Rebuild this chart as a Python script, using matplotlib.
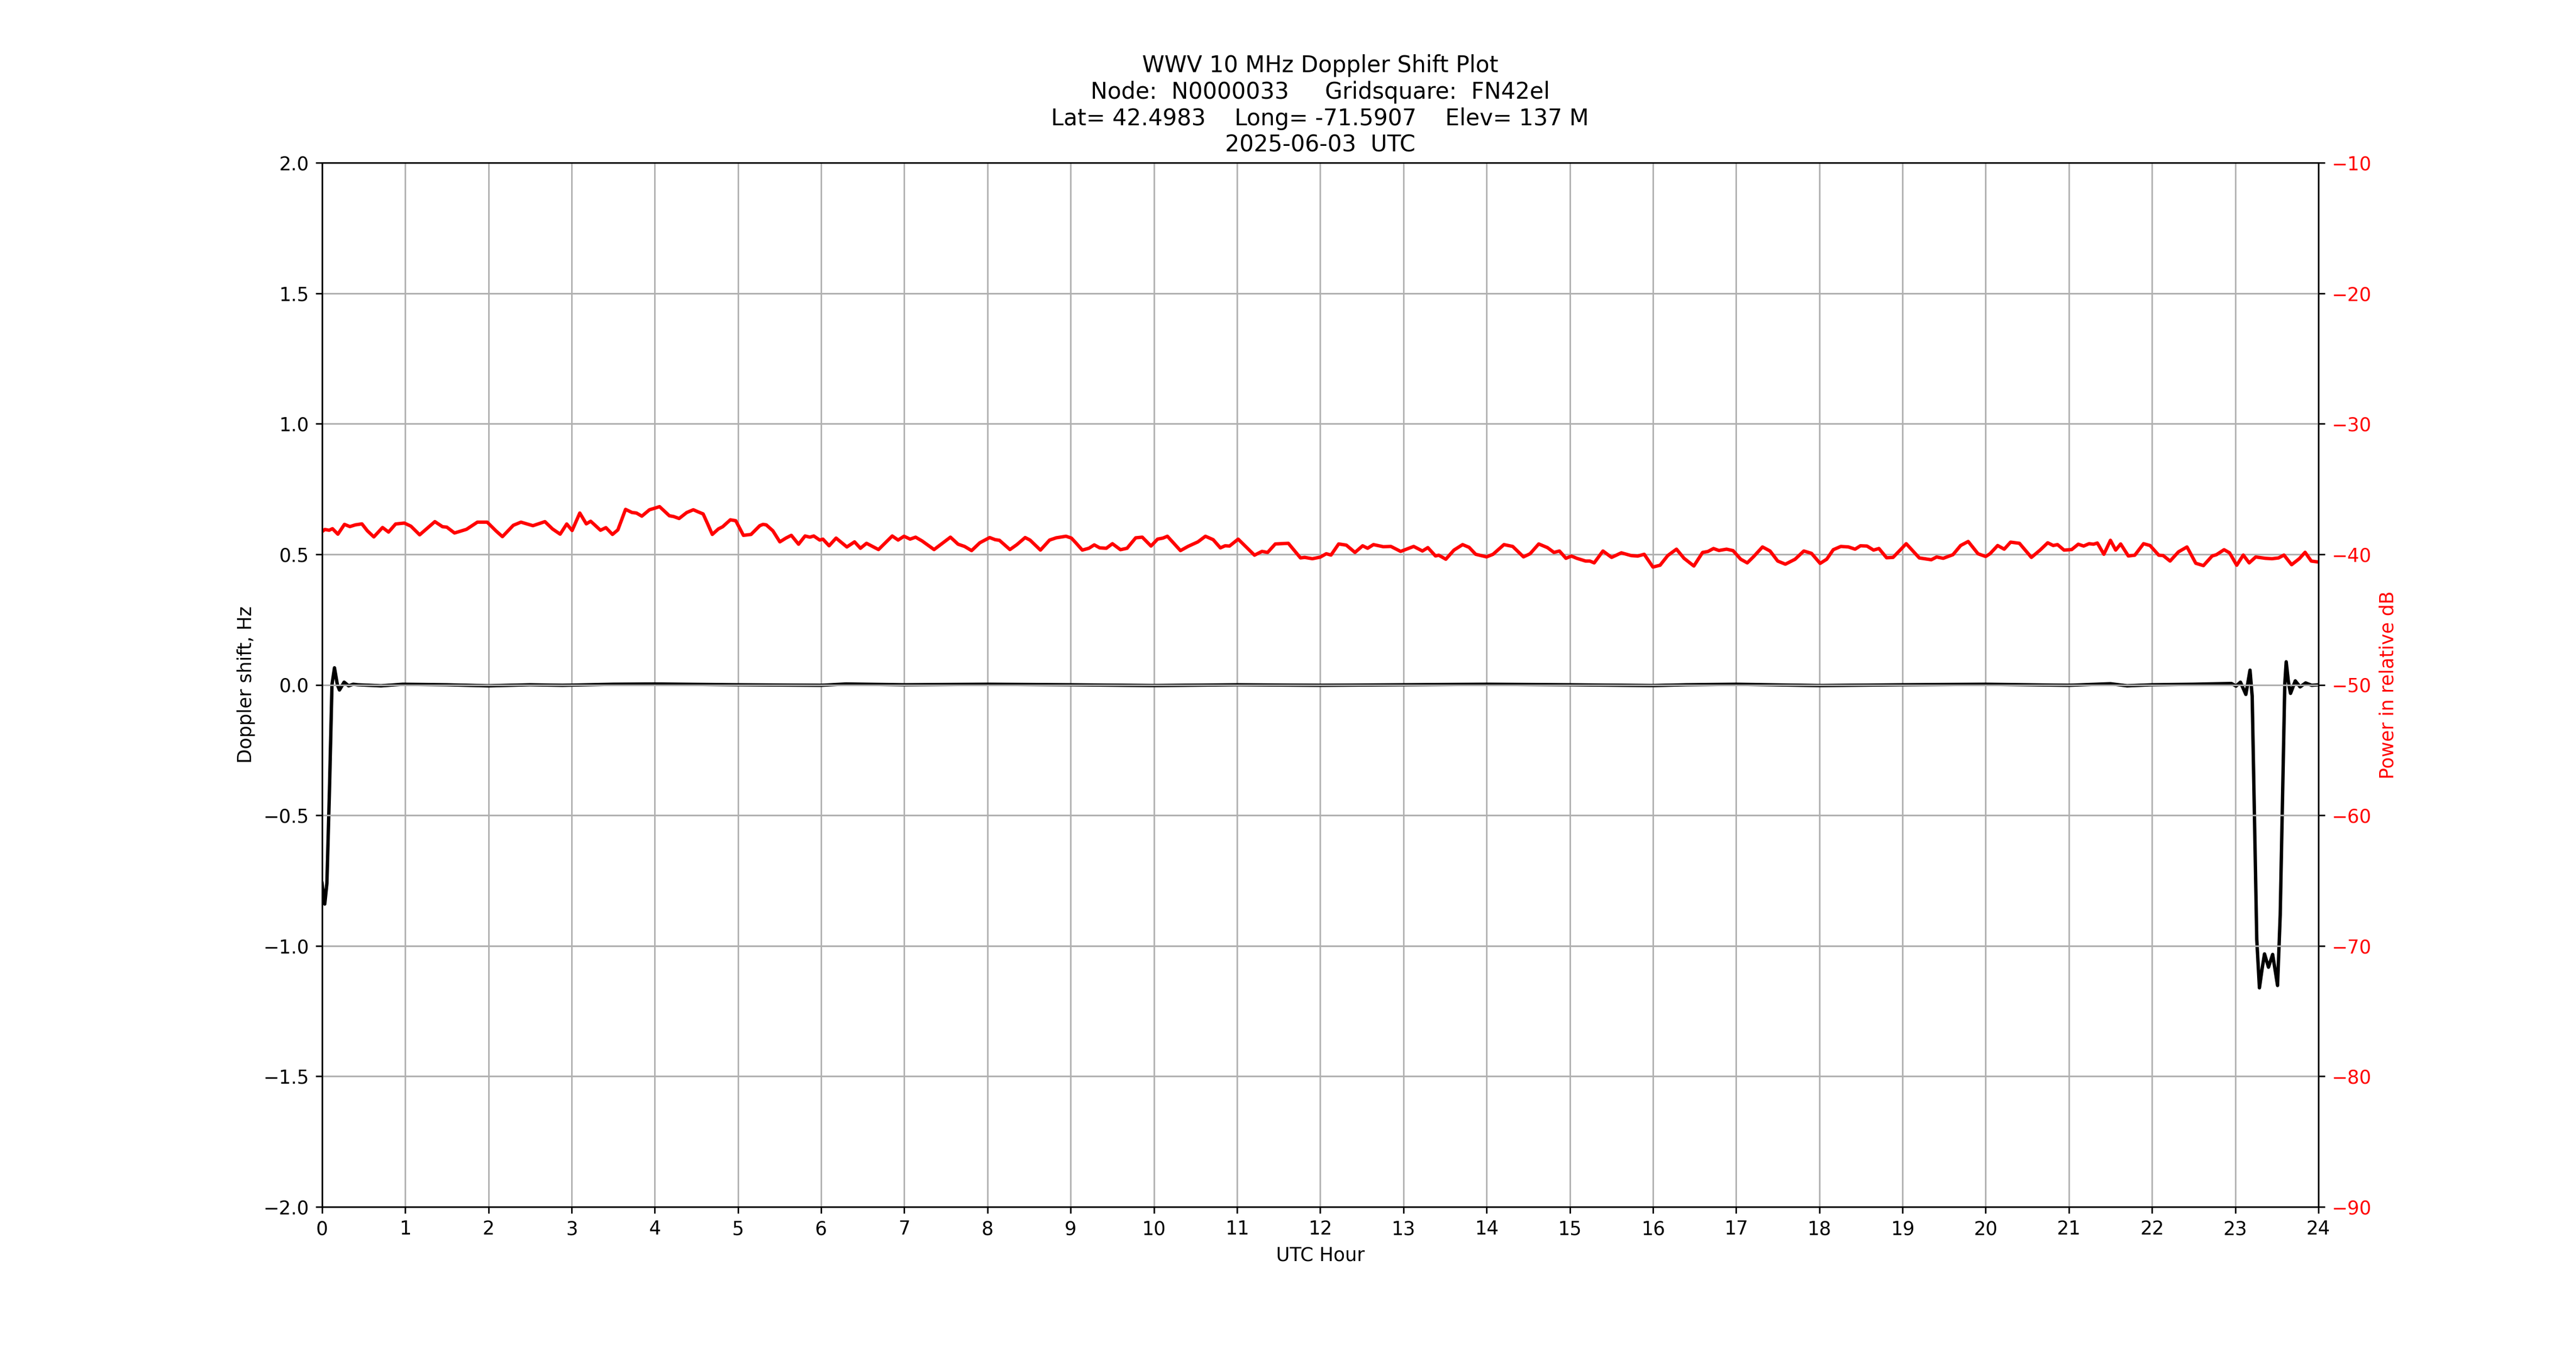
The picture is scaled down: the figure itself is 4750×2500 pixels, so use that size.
import matplotlib
matplotlib.use('Agg')
import matplotlib.pyplot as plt

# Doppler shift (Hz) vs UTC hour
dop_hours = [0.0, 0.033, 0.059, 0.09, 0.12, 0.15, 0.185, 0.21, 0.266, 0.32,
             0.375, 0.43, 0.71, 0.97, 1.5, 2.0, 2.5, 2.89, 3.5, 4.0, 5.0,
             6.0, 6.3, 7.0, 8.0, 9.0, 10.0, 11.0, 12.0, 13.0, 14.0, 15.0,
             16.0, 16.4, 17.0, 18.0, 19.0, 20.0, 21.0, 21.5, 21.7, 22.0,
             22.5, 22.955, 23.01, 23.063, 23.128, 23.178, 23.204, 23.226,
             23.259, 23.291, 23.324, 23.352, 23.4, 23.45, 23.509, 23.541,
             23.57, 23.596, 23.613, 23.639, 23.665, 23.722, 23.78, 23.846,
             23.92, 24.0]
dop_hz = [-0.76, -0.84, -0.76, -0.40, 0.0, 0.065, 0.0, -0.02, 0.01, -0.004,
          0.002, 0.0, -0.004, 0.002, 0.0, -0.004, 0.0, -0.002, 0.002, 0.003, 0.0,
          -0.002, 0.003, 0.0, 0.002, 0.0, -0.003, 0.0, -0.002, 0.0, 0.002, 0.0,
          -0.003, 0.0, 0.002, -0.003, 0.0, 0.002, -0.002, 0.004, -0.004, 0.0,
          0.002, 0.005, -0.005, 0.01, -0.037, 0.056, -0.044, -0.416,
          -0.975, -1.161, -1.087, -1.031, -1.082, -1.033, -1.152, -0.882,
          -0.416, 0.003, 0.088, 0.012, -0.033, 0.015, -0.008, 0.007,
          -0.002, 0.0]

# received power (relative dB) vs UTC hour
pwr_hours = [0.0, 0.034, 0.086, 0.126, 0.191, 0.27, 0.335, 0.40, 0.48, 0.545,
             0.623, 0.728, 0.80, 0.885, 0.99, 1.069, 1.174, 1.357, 1.449, 1.50,
             1.593, 1.737, 1.868, 1.986, 2.09, 2.169, 2.30, 2.392, 2.536, 2.68,
             2.771, 2.863, 2.942, 3.007, 3.099, 3.177, 3.23, 3.348, 3.413, 3.492,
             3.557, 3.649, 3.727, 3.78, 3.845, 3.937, 4.0,
             4.058, 4.176, 4.228, 4.293, 4.385, 4.464, 4.529, 4.582, 4.634,
             4.692, 4.765, 4.817, 4.909, 4.974, 5.066, 5.158, 5.263, 5.302,
             5.341, 5.42, 5.504, 5.577, 5.642, 5.729, 5.807, 5.865, 5.912,
             5.983, 6.022, 6.096, 6.18, 6.31, 6.402, 6.473, 6.546, 6.69, 6.855,
             6.926, 6.997, 7.07, 7.136, 7.214, 7.358, 7.555, 7.647, 7.725,
             7.809, 7.908, 8.026,
             8.092, 8.144, 8.27, 8.354, 8.453, 8.511, 8.637, 8.747, 8.826,
             8.944, 9.009, 9.062, 9.14, 9.219, 9.284, 9.35, 9.429, 9.502, 9.599,
             9.678, 9.782, 9.861, 9.966, 10.045, 10.11, 10.163, 10.32, 10.41,
             10.53, 10.62, 10.713, 10.80, 10.857, 10.91, 11.014, 11.21, 11.30,
             11.368, 11.46, 11.617, 11.763, 11.814, 11.906, 12.0,
             12.073, 12.13, 12.222, 12.314, 12.418, 12.51, 12.57, 12.64,
             12.758, 12.85, 12.967, 13.124, 13.229, 13.294, 13.386, 13.425,
             13.51, 13.608, 13.712, 13.79, 13.869, 14.0, 14.078, 14.209, 14.314,
             14.444, 14.523, 14.627, 14.732, 14.81, 14.876, 14.954, 15.02,
             15.085, 15.19, 15.242, 15.294, 15.399, 15.503, 15.62, 15.738,
             15.817, 15.895, 16.0,
             16.086, 16.178, 16.283, 16.374, 16.492, 16.597, 16.66, 16.728,
             16.793, 16.885, 16.963, 17.055, 17.134, 17.212, 17.317, 17.408,
             17.50, 17.592, 17.709, 17.814, 17.906, 18.01, 18.089, 18.168,
             18.259, 18.351, 18.43, 18.495, 18.573, 18.652, 18.717, 18.809,
             18.887, 19.045, 19.202, 19.346, 19.41, 19.49, 19.607, 19.699,
             19.79, 19.908, 20.0,
             20.052, 20.144, 20.223, 20.30, 20.406, 20.55, 20.654, 20.746,
             20.812, 20.864, 20.942, 21.034, 21.113, 21.178, 21.243, 21.296,
             21.343, 21.421, 21.50, 21.563, 21.623, 21.715, 21.793, 21.898,
             21.976, 22.081, 22.134, 22.217, 22.317, 22.42, 22.526, 22.618,
             22.723, 22.775, 22.866, 22.932, 23.018, 23.097, 23.168, 23.246,
             23.364, 23.442, 23.521, 23.586, 23.678, 23.77, 23.84, 23.914,
             23.995]
pwr_db = [-38.27, -38.1, -38.16, -38.04, -38.46, -37.71, -37.88, -37.75, -37.67, -38.2,
          -38.67, -37.95, -38.3, -37.68, -37.61, -37.85, -38.51, -37.5, -37.89, -37.92,
          -38.37, -38.09, -37.54, -37.54, -38.2, -38.65, -37.78, -37.54, -37.81, -37.5,
          -38.06, -38.46, -37.68, -38.18, -36.84, -37.67, -37.47, -38.16, -37.96, -38.48,
          -38.13, -36.56, -36.8, -36.84, -37.08, -36.59, -36.47,
          -36.35, -37.05, -37.11, -37.26, -36.8, -36.59, -36.77, -36.91, -37.64,
          -38.48, -38.06, -37.89, -37.36, -37.43, -38.55, -38.48, -37.81, -37.71,
          -37.75, -38.2, -39.05, -38.76, -38.55, -39.23, -38.6, -38.69, -38.6,
          -38.91, -38.84, -39.35, -38.76, -39.44, -39.05, -39.54, -39.16, -39.64, -38.6,
          -38.91, -38.62, -38.84, -38.69, -38.98, -39.64, -38.69, -39.23, -39.4,
          -39.72, -39.12, -38.72,
          -38.88, -38.93, -39.64, -39.26, -38.72, -38.91, -39.68, -38.91, -38.74,
          -38.62, -38.76, -39.12, -39.68, -39.54, -39.28, -39.51, -39.54, -39.19, -39.65,
          -39.54, -38.74, -38.69, -39.37, -38.84, -38.76, -38.62, -39.72, -39.4,
          -39.05, -38.62, -38.88, -39.51, -39.35, -39.37, -38.84, -40.07, -39.78,
          -39.86, -39.21, -39.16, -40.28, -40.24, -40.34, -40.22,
          -39.96, -40.06, -39.21, -39.30, -39.86, -39.35, -39.54, -39.26,
          -39.42, -39.40, -39.78, -39.40, -39.75, -39.49, -40.13, -40.07,
          -40.38, -39.68, -39.26, -39.47, -40.0, -40.2, -40.0, -39.26, -39.40,
          -40.2, -39.96, -39.21, -39.49, -39.86, -39.75, -40.31, -40.14,
          -40.31, -40.52, -40.52, -40.66, -39.75, -40.24, -39.89, -40.10,
          -40.14, -40.0, -40.98,
          -40.84, -40.10, -39.61, -40.31, -40.90, -39.86, -39.79, -39.56,
          -39.71, -39.61, -39.72, -40.38, -40.66, -40.17, -39.44, -39.75,
          -40.52, -40.76, -40.38, -39.75, -39.93, -40.70, -40.38, -39.65,
          -39.40, -39.44, -39.61, -39.35, -39.37, -39.68, -39.56, -40.27,
          -40.24, -39.19, -40.28, -40.42, -40.21, -40.31, -40.03, -39.33,
          -39.02, -39.96, -40.17,
          -39.96, -39.33, -39.61, -39.07, -39.16, -40.24, -39.68, -39.12,
          -39.33, -39.26, -39.68, -39.64, -39.23, -39.37, -39.19, -39.23,
          -39.14, -40.0, -38.93, -39.68, -39.21, -40.13, -40.07, -39.19,
          -39.33, -40.07, -40.10, -40.52, -39.82, -39.44, -40.69, -40.87,
          -40.13, -40.03, -39.65, -39.89, -40.84, -40.06, -40.66, -40.21,
          -40.31, -40.34, -40.28, -40.06, -40.80, -40.34, -39.85, -40.52,
          -40.59]

hour_ticks = list(range(0, 25))

title = ("WWV 10 MHz Doppler Shift Plot\n"
         "Node:  N0000033     Gridsquare:  FN42el\n"
         "Lat= 42.4983    Long= -71.5907    Elev= 137 M\n"
         "2025-06-03  UTC")

fig = plt.figure(figsize=(19, 10), dpi=250)
ax = fig.add_subplot(111)
ax.plot(dop_hours, dop_hz, color='k', linewidth=1.8)
ax.set_xlim(0, 24)
ax.set_ylim(-2, 2)
ax.set_xticks(hour_ticks)
ax.set_xlabel('UTC Hour')
ax.set_ylabel('Doppler shift, Hz')
ax.grid()

# power on a second y axis, its grid sits over the doppler trace
ax2 = ax.twinx()
ax2.plot(pwr_hours, pwr_db, color='r', linewidth=1.8)
ax2.set_ylim(-90, -10)
ax2.set_ylabel('Power in relative dB', color='r')
ax2.tick_params(axis='y', labelcolor='r')
ax2.grid()

ax.set_title(title)

fig.savefig('out.png', dpi=250)
